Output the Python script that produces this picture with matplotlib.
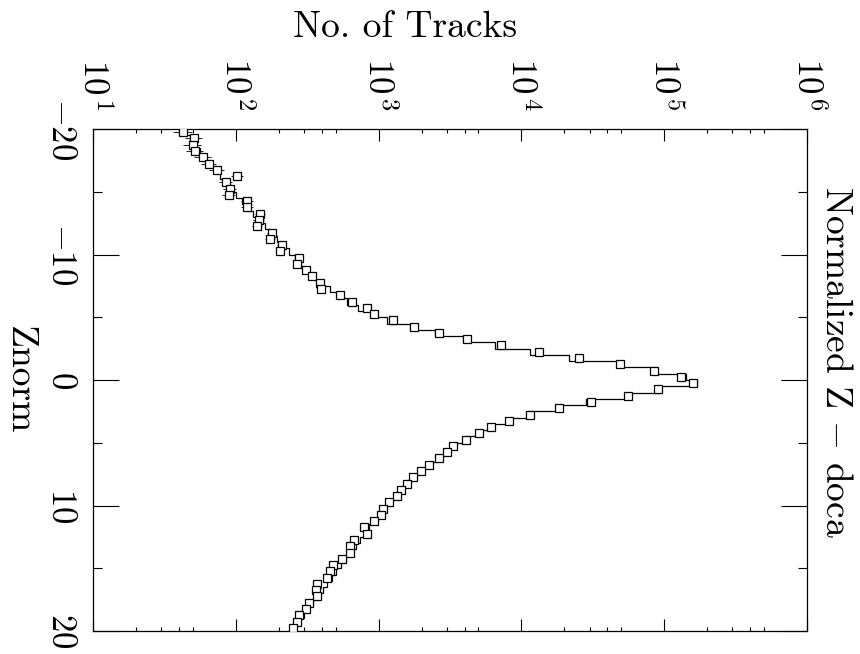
import numpy as np
import matplotlib
matplotlib.use("Agg")
import matplotlib.pyplot as plt
from matplotlib.ticker import LogLocator, MultipleLocator, NullFormatter

# Znorm binning: 80 bins of width 0.5 from -20 to 20
z_lo, z_hi, z_step = -20.0, 20.0, 0.5

# histogram (solid line), one value per bin, from Znorm = -20 upward
hist_counts = [
    45, 48, 52, 56, 60, 66, 72, 78, 85, 92,
    100, 110, 120, 133, 146, 160, 176, 193, 212, 234,
    260, 288, 320, 358, 402, 455, 520, 600, 720, 880,
    1150, 1650, 2500, 3900, 6500, 11500, 21400, 47900, 87000, 141000,
    170000, 93300, 55000, 28200, 17500, 11200, 8200, 6300, 5000, 4100,
    3450, 2950, 2550, 2250, 2000, 1780, 1600, 1450, 1320, 1200,
    1100, 1010, 930, 860, 800, 740, 690, 640, 590, 545,
    505, 470, 435, 405, 375, 350, 325, 300, 280, 260,
]

# data points (open squares), one value per bin
data_counts = [
    43, 51, 50, 52, 59, 65, 74, 102, 85, 91,
    89, 120, 120, 148, 145, 141, 178, 174, 209, 204,
    275, 269, 309, 339, 389, 398, 537, 646, 832, 933,
    1259, 1778, 2630, 4169, 7244, 13180, 25120, 48980, 85110, 131800,
    158500, 91200, 56230, 30900, 18200, 11480, 8130, 6170, 5010, 4070,
    3310, 3020, 2630, 2240, 1995, 1740, 1585, 1445, 1349, 1175,
    1072, 1047, 933, 794, 832, 676, 631, 631, 550, 479,
    457, 437, 372, 363, 372, 324, 309, 275, 269, 251,
]

decades = [1, 2, 3, 4, 5, 6]
z_ticks = [-20, -10, 0, 10, 20]

plt.rcParams["mathtext.fontset"] = "cm"
plt.rcParams["font.family"] = ["cmr10", "DejaVu Serif"]
plt.rcParams["axes.unicode_minus"] = False

edges = np.arange(z_lo, z_hi + z_step / 2, z_step)
centers = 0.5 * (edges[:-1] + edges[1:])
hist = np.array(hist_counts, dtype=float)
data = np.array(data_counts, dtype=float)

fig = plt.figure(figsize=(8.6, 6.54), dpi=100)
ax = fig.add_axes([93 / 860, 1 - 631 / 654, 714 / 860, 502 / 654])

ax.stairs(hist, edges, orientation="horizontal", baseline=None,
          color="black", linewidth=0.9)
ax.errorbar(data, centers, xerr=np.sqrt(data), fmt="s", ms=6.2,
            mfc="white", mec="black", mew=0.9, ecolor="black",
            elinewidth=0.6, capsize=0, zorder=3)

ax.set_xscale("log")
ax.set_xlim(10.0 ** decades[0], 10.0 ** decades[-1])
ax.set_ylim(z_hi, z_lo)

ax.set_xticks([10.0 ** d for d in decades],
              [r"$10^{\,%d}$" % d for d in decades])
ax.xaxis.set_minor_locator(LogLocator(base=10, subs=(2, 3, 4, 5), numticks=20))
ax.xaxis.set_minor_formatter(NullFormatter())
ax.set_yticks(z_ticks, [r"$%d$" % z for z in z_ticks])
ax.yaxis.set_minor_locator(MultipleLocator(5))

ax.tick_params(axis="x", which="both", direction="in", top=True, bottom=True,
               labeltop=True, labelbottom=False, width=0.8)
ax.tick_params(axis="x", which="major", length=8.6, pad=13, labelsize=25,
               labelrotation=-90)
ax.tick_params(axis="x", which="minor", length=3.2)
ax.tick_params(axis="y", which="both", direction="in", left=True, right=True,
               width=0.8)
ax.tick_params(axis="y", which="major", length=18.7, pad=11.5, labelsize=25,
               labelrotation=-90)
ax.tick_params(axis="y", which="minor", length=6.5)
for lbl in ax.get_yticklabels():
    lbl.set_va("center")

for sp in ax.spines.values():
    sp.set_linewidth(0.9)

fig.text(405 / 860, 1 - 37 / 654, "No. of Tracks", fontsize=27,
         ha="center", va="baseline")
fig.text(19 / 860, 1 - 380 / 654, "Znorm", fontsize=27, rotation=-90,
         ha="center", va="center")
fig.text(836 / 860, 1 - 362 / 654, r"Normalized Z$\,-\,$doca", fontsize=27,
         rotation=-90, ha="center", va="center")

fig.savefig("out.png", dpi=100)
